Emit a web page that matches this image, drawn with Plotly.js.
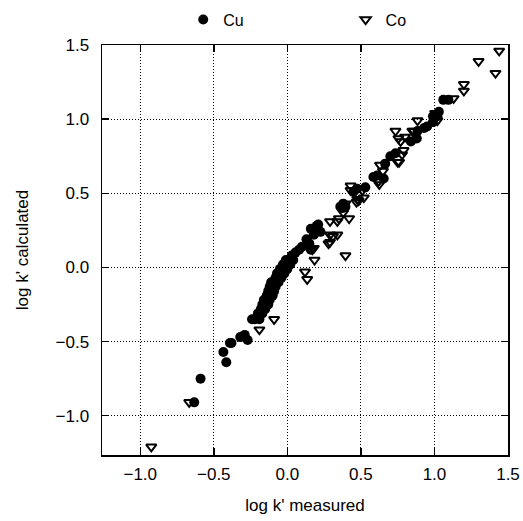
<!DOCTYPE html>
<html>
<head>
<meta charset="utf-8">
<script src="https://cdn.plot.ly/plotly-3.0.1.min.js"></script>
<style>html,body{margin:0;padding:0;background:#fff;}#chart{width:523px;height:521px;}</style>
</head>
<body>
<div id="chart"></div>
<script>
// Cu series (filled circles): log k' measured vs log k' calculated
const cuX = [-0.633, -0.59, -0.435, -0.415, -0.39, -0.38, -0.32, -0.29, -0.27,
  -0.24, -0.22, -0.19, -0.20, -0.17, -0.18, -0.15, -0.17, -0.13, -0.16, -0.12,
  -0.14, -0.10, -0.13, -0.09, -0.12, -0.08, -0.11, -0.06, -0.08, -0.04, -0.07,
  -0.02, -0.05, 0.00, -0.03, 0.02, -0.01, 0.04, 0.03, 0.055, 0.10, 0.16, 0.13,
  0.16, 0.20, 0.225, 0.18, 0.21, 0.08, 0.15,
  0.36, 0.38, 0.375, 0.395, 0.45, 0.475, 0.53, 0.585, 0.61, 0.655, 0.665,
  0.70, 0.735, 0.84, 0.88, 0.95, 0.99, 1.00, 1.02, 0.99, 0.885, 0.93, 1.06, 1.095, 1.03];
const cuY = [-0.91, -0.75, -0.57, -0.64, -0.51, -0.51, -0.47, -0.455, -0.49,
  -0.35, -0.35, -0.35, -0.31, -0.31, -0.28, -0.28, -0.25, -0.25, -0.22, -0.22,
  -0.19, -0.19, -0.16, -0.16, -0.13, -0.13, -0.10, -0.10, -0.07, -0.07, -0.04,
  -0.04, -0.01, -0.01, 0.02, 0.02, 0.05, 0.05, 0.08, 0.10, 0.14, 0.12, 0.19,
  0.26, 0.28, 0.24, 0.22, 0.29, 0.12, 0.16,
  0.41, 0.43, 0.40, 0.41, 0.51, 0.53, 0.54, 0.61, 0.62, 0.60, 0.70,
  0.75, 0.77, 0.85, 0.87, 0.95, 0.98, 1.02, 1.02, 1.02, 0.92, 0.94, 1.13, 1.13, 1.05];

// Co series (open down-triangles)
const coX = [-0.925, -0.667, -0.19, -0.09, 0.12, 0.135, 0.185, 0.395, 0.17, 0.18,
  0.28, 0.29, 0.31, 0.34, 0.29, 0.29, 0.34, 0.35, 0.42, 0.38, 0.395, 0.47,
  0.43, 0.43, 0.51, 0.52, 0.475, 0.485, 0.62, 0.625, 0.63, 0.65, 0.76, 0.75,
  0.78, 0.79, 0.735, 0.755, 0.77, 0.80, 0.85, 0.86, 0.885, 1.005, 1.02,
  1.13, 1.20, 1.20, 1.30, 1.415, 1.44];
const coY = [-1.21, -0.91, -0.42, -0.35, -0.03, -0.08, 0.05, 0.08, 0.12, 0.13,
  0.16, 0.17, 0.21, 0.22, 0.22, 0.31, 0.31, 0.33, 0.33, 0.37, 0.43, 0.44,
  0.52, 0.55, 0.52, 0.47, 0.46, 0.45, 0.58, 0.56, 0.69, 0.65, 0.71, 0.71,
  0.76, 0.79, 0.92, 0.87, 0.85, 0.88, 0.92, 0.92, 0.99, 1.04, 0.99,
  1.14, 1.235, 1.19, 1.39, 1.31, 1.46];

const tickVals = [-1.0, -0.5, 0.0, 0.5, 1.0, 1.5];

const FONT = 'Liberation Sans, Arial, Helvetica, sans-serif';

const traces = [
  {x: cuX, y: cuY, name: 'Cu', type: 'scatter', mode: 'markers', legend: 'legend',
   marker: {symbol: 'circle', size: 10, color: '#000'}},
  {x: coX, y: coY, name: 'Co', type: 'scatter', mode: 'markers', legend: 'legend2',
   marker: {symbol: 'triangle-down-open', size: 9, color: '#000', line: {width: 2, color: '#000'}}}
];

const axisCommon = {
  tickvals: tickVals,
  tickformat: '.1f',
  showline: true, linecolor: '#000', linewidth: 1.5, mirror: 'ticks',
  ticks: 'inside', ticklen: 7, tickcolor: '#000', tickwidth: 1.5,
  showgrid: true, gridcolor: '#000', gridwidth: 1, griddash: '1px,2px',
  zeroline: false, automargin: false,
  tickfont: {family: FONT, size: 17, color: '#000'}
};

const legendCommon = {orientation: 'h', xanchor: 'left', yref: 'container', y: 0.995, yanchor: 'top',
  bgcolor: 'rgba(0,0,0,0)', font: {family: FONT, size: 16, color: '#000'}};

const layout = {
  width: 523, height: 521,
  margin: {l: 102, r: 15, t: 45, b: 66, autoexpand: false},
  paper_bgcolor: '#fff', plot_bgcolor: '#fff',
  font: {family: FONT, color: '#000'},
  showlegend: true,
  legend: Object.assign({}, legendCommon, {x: 0.2}),
  legend2: Object.assign({}, legendCommon, {x: 0.6}),
  xaxis: Object.assign({}, axisCommon, {range: [-1.26, 1.5], ticklabelstandoff: 3,
    title: {text: "log k' measured", font: {family: FONT, size: 17, color: '#000'}, standoff: 16}}),
  yaxis: Object.assign({}, axisCommon, {range: [-1.265, 1.5], ticklabelstandoff: 8,
    title: {text: "log k' calculated", font: {family: FONT, size: 17, color: '#000'}, standoff: 22}})
};

Plotly.newPlot('chart', traces, layout, {displayModeBar: false, staticPlot: true});
</script>
</body>
</html>
